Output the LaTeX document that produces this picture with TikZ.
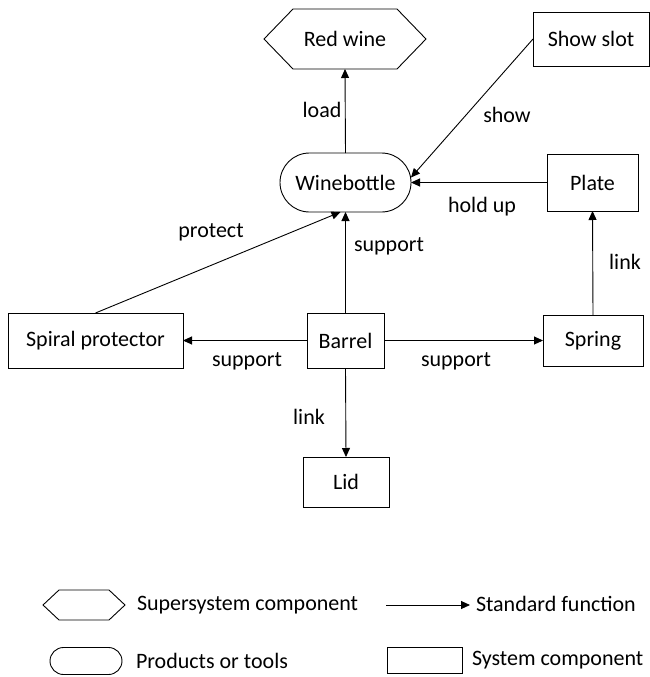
\documentclass[tikz,border=0pt]{standalone}
\usepackage{fontspec}
\setmainfont{Carlito}
\usetikzlibrary{shapes.misc, arrows.meta}

% outline of a hexagonal (supersystem) node: #1 node name, #2 inset of the points
\newcommand\hexframe[2]{%
  \draw[line width=0.9pt]
    ([xshift=#2]#1.north west) -- ([xshift=-#2]#1.north east) -- (#1.east)
    -- ([xshift=-#2]#1.south east) -- ([xshift=#2]#1.south west) -- (#1.west) -- cycle;}

\begin{document}
\begin{tikzpicture}[x=1pt, y=-1pt,
  font=\fontsize{22}{26}\selectfont,
  every node/.style={inner sep=0pt, outer sep=0pt},
  comp/.style={draw, line width=0.9pt, rectangle},
  prod/.style={draw, line width=0.9pt, rounded rectangle},
  supersys/.style={rectangle},
  func/.style={-{Triangle[length=9pt, width=8pt]}, line width=0.9pt},
  lbl/.style={}]

\path[use as bounding box] (0,0) rectangle (650,677);

% components
\node[supersys, minimum width=162pt, minimum height=60pt] (redwine) at (345,39) {Red wine};
\hexframe{redwine}{29pt}
\node[comp, minimum width=116pt, minimum height=54pt] (showslot) at (591,39) {Show slot};
\node[prod, minimum width=131pt, minimum height=59pt] (bottle) at (345.5,182.5) {Winebottle};
\node[comp, minimum width=91pt, minimum height=57pt] (plate) at (592.5,182.5) {Plate};
\node[comp, minimum width=175pt, minimum height=55pt] (spiral) at (95.5,340.5) {Spiral protector};
\node[comp, minimum width=77pt, minimum height=55pt] (barrel) at (345.5,340.5) {Barrel};
\node[comp, minimum width=100pt, minimum height=51pt] (spring) at (593,340.5) {Spring};
\node[comp, minimum width=86pt, minimum height=50pt] (lid) at (346,482) {Lid};

% functions
\draw[func] (bottle.north) -- (redwine.south);
\draw[func] (showslot.west) -- ([yshift=5pt]bottle.east);
\draw[func] (plate.west) -- (bottle.east);
\draw[func] (barrel.north) -- (bottle.south);
\draw[func] (spiral.north) -- ([xshift=-5pt]bottle.south);
\draw[func] (barrel.west) -- (spiral.east);
\draw[func] (barrel.east) -- (spring.west);
\draw[func] (barrel.south) -- (lid.north);
\draw[func] (spring.north) -- (plate.south);

% function labels
\node[lbl] (lload) at (322,110) {load};
\node[lbl] (lshow) at (507,115) {show};
\node[lbl] (lhold) at (482,207) {hold up};
\node[lbl] (lprotect) at (211,232) {protect};
\node[lbl] (lsupup) at (389,246) {support};
\node[lbl] (lsupleft) at (247,361) {support};
\node[lbl] (lsupright) at (456,361) {support};
\node[lbl] (llinklid) at (309,417) {link};
\node[lbl] (llinkplate) at (625,262) {link};

% legend
\node[supersys, minimum width=82pt, minimum height=30pt] (legsuper) at (84,605) {};
\hexframe{legsuper}{16pt}
\node[lbl, anchor=west] (legsupertext) at (137,605) {Supersystem component};
\coordinate (legarrowstart) at (386,605);
\coordinate (legarrowend) at (470,605);
\draw[func] (legarrowstart) -- (legarrowend);
\node[lbl, anchor=west] (legfunctext) at (476,604) {Standard function};
\node[prod, minimum width=72pt, minimum height=27pt] (legprod) at (86,661) {};
\node[lbl, anchor=west] (legprodtext) at (136,661) {Products or tools};
\node[comp, minimum width=75pt, minimum height=26pt] (legcomp) at (424.5,660.5) {};
\node[lbl, anchor=west] (legcomptext) at (472,660) {System component};
\end{tikzpicture}
\end{document}
